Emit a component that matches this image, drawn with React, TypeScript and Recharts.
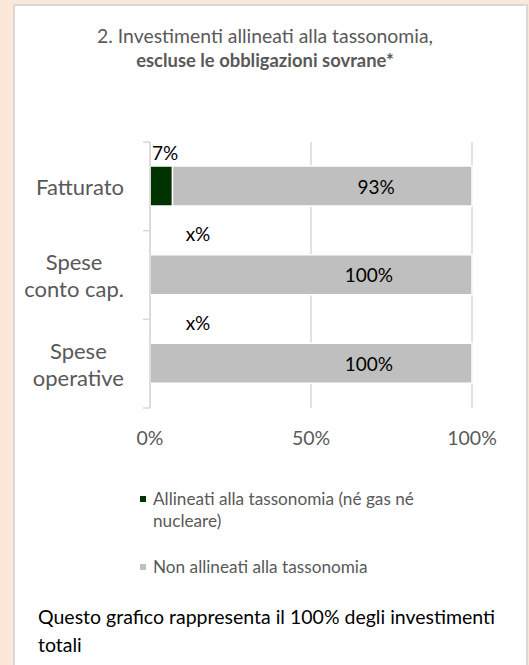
import React from 'react';
import { BarChart, Bar, XAxis, YAxis, CartesianGrid, LabelList } from 'recharts';

// values
const categories = ['Fatturato', 'Spese\nconto cap.', 'Spese\noperative'];
const aligned = [7, 0, 0];
const alignedLabels = ['7%', 'x%', 'x%'];
const notAligned = [93, 100, 100];
const xTicks = [0, 50, 100];

const GREEN = '#003300';
const GREY = '#bfbfbf';
const TEXT = '#595959';
const FONT = 'Lato, "Open Sans", sans-serif';

const data = categories.map((name, i) => ({
  name,
  aligned: aligned[i],
  alignedLabel: alignedLabels[i],
  notAligned: notAligned[i],
}));

const TOP = 142;
const BOTTOM = 408;
const BAND = (BOTTOM - TOP) / categories.length;
const CAT_FONT = 22;

let measureCtx: CanvasRenderingContext2D | null = null;
function textWidth(s: string, font: string) {
  if (!measureCtx) measureCtx = document.createElement('canvas').getContext('2d');
  if (!measureCtx) return s.length * 9;
  measureCtx.font = font;
  return measureCtx.measureText(s).width;
}

function CategoryTick(props: any) {
  const { x, y, payload, index } = props;
  const lines: string[] = String(payload.value).split('\n');
  const w = Math.max(...lines.map((l) => textWidth(l, `${CAT_FONT}px Lato`)));
  const cx = x - 18 - w / 2;
  const lh = 27;
  const startY = y - ((lines.length - 1) * lh) / 2;
  const axisX = x + 8;
  return (
    <g>
      <line x1={axisX - 7} x2={axisX} y1={y - BAND / 2} y2={y - BAND / 2} stroke="#d9d9d9" strokeWidth={1.5} />
      {index === categories.length - 1 && (
        <line x1={axisX - 7} x2={axisX} y1={y + BAND / 2} y2={y + BAND / 2} stroke="#d9d9d9" strokeWidth={1.5} />
      )}
      {lines.map((l, i) => (
        <text
          key={i}
          x={cx}
          y={startY + i * lh}
          textAnchor="middle"
          dominantBaseline="central"
          fill={TEXT}
          fontSize={CAT_FONT}
          fontFamily={FONT}
        >
          {l}
        </text>
      ))}
    </g>
  );
}

function PercentTick(props: any) {
  const { x, y, payload } = props;
  return (
    <text x={x} y={y + 21} textAnchor="middle" dominantBaseline="central" fill={TEXT} fontSize={19.5} fontFamily={FONT}>
      {`${payload.value}%`}
    </text>
  );
}

// label of the aligned share, drawn above the bar row
function AlignedLabel(props: any) {
  const { x, y, index } = props;
  if (!(aligned[index] > 0)) return null;
  return (
    <text x={x + 2} y={y - 14} textAnchor="start" dominantBaseline="central" fill="#000" fontSize={19} fontFamily={FONT}>
      {alignedLabels[index]}
    </text>
  );
}

// placeholder label for rows where the aligned bar has no width
function EmptyAlignedLabel(props: any) {
  const { x, y, index } = props;
  if (aligned[index] > 0) return null;
  return (
    <text x={x + 48} y={y - 21} textAnchor="middle" dominantBaseline="central" fill="#000" fontSize={19} fontFamily={FONT}>
      {alignedLabels[index]}
    </text>
  );
}

function GreyLabel(props: any) {
  const { x, y, width, height, value } = props;
  return (
    <text
      x={x + width * 0.68}
      y={y + height / 2}
      textAnchor="middle"
      dominantBaseline="central"
      fill="#000"
      fontSize={19}
      fontFamily={FONT}
    >
      {`${value}%`}
    </text>
  );
}

function LegendRow({ color, children, top }: { color: string; children: React.ReactNode; top: number }) {
  return (
    <div style={{ position: 'absolute', left: 140, top, width: 340, display: 'flex', alignItems: 'flex-start' }}>
      <span style={{ width: 6, height: 6, background: color, marginTop: 8, marginRight: 7, flex: 'none' }} />
      <span style={{ fontSize: 17.2, lineHeight: '22px', color: TEXT, fontFamily: FONT }}>{children}</span>
    </div>
  );
}

export default function App() {
  return (
    <div style={{ position: 'fixed', left: 0, top: 0, width: 529, height: 665, background: '#fbe8d8', overflow: 'hidden' }}>
      <div
        style={{
          position: 'absolute',
          left: 13,
          top: 4,
          width: 511,
          height: 680,
          background: '#fff',
          border: '2px solid #d9d9d9',
        }}
      />
      <div
        style={{
          position: 'absolute',
          left: 0,
          width: 530,
          top: 24,
          textAlign: 'center',
          color: TEXT,
          fontFamily: FONT,
          lineHeight: '24px',
        }}
      >
        <div style={{ fontSize: 19.4 }}>2. Investimenti allineati alla tassonomia,</div>
        <div style={{ fontSize: 18.4, fontWeight: 'bold' }}>escluse le obbligazioni sovrane*</div>
      </div>

      <div style={{ position: 'absolute', left: 0, top: 0 }}>
        <BarChart
          width={529}
          height={470}
          data={data}
          layout="vertical"
          margin={{ top: TOP, right: 57, bottom: 470 - BOTTOM - 30, left: 2 }}
          barSize={40}
        >
          <CartesianGrid horizontal={false} stroke="#d9d9d9" strokeWidth={1.5} />
          <XAxis
            type="number"
            domain={[0, 100]}
            ticks={xTicks}
            axisLine={false}
            tickLine={false}
            tick={<PercentTick />}
            height={30}
            interval={0}
          />
          <YAxis
            type="category"
            dataKey="name"
            width={148}
            axisLine={{ stroke: '#d9d9d9', strokeWidth: 1.5 }}
            tickLine={false}
            tick={<CategoryTick />}
            interval={0}
          />
          <Bar dataKey="aligned" stackId="a" fill={GREEN} stroke="#fff" strokeWidth={1.5} isAnimationActive={false}>
            <LabelList dataKey="aligned" content={<AlignedLabel />} />
          </Bar>
          <Bar dataKey="notAligned" stackId="a" fill={GREY} stroke="#fff" strokeWidth={1.5} isAnimationActive={false}>
            <LabelList dataKey="notAligned" content={<GreyLabel />} />
            <LabelList dataKey="alignedLabel" content={<EmptyAlignedLabel />} />
          </Bar>
        </BarChart>
      </div>

      <LegendRow color={GREEN} top={488}>
        Allineati alla tassonomia (né gas né
        <br />
        nucleare)
      </LegendRow>
      <LegendRow color={GREY} top={556}>
        Non allineati alla tassonomia
      </LegendRow>

      <div
        style={{
          position: 'absolute',
          left: 38,
          top: 603,
          width: 490,
          color: '#000',
          fontFamily: FONT,
          fontSize: 19.5,
          lineHeight: '28px',
        }}
      >
        Questo grafico rappresenta il 100% degli investimenti
        <br />
        totali
      </div>
    </div>
  );
}
